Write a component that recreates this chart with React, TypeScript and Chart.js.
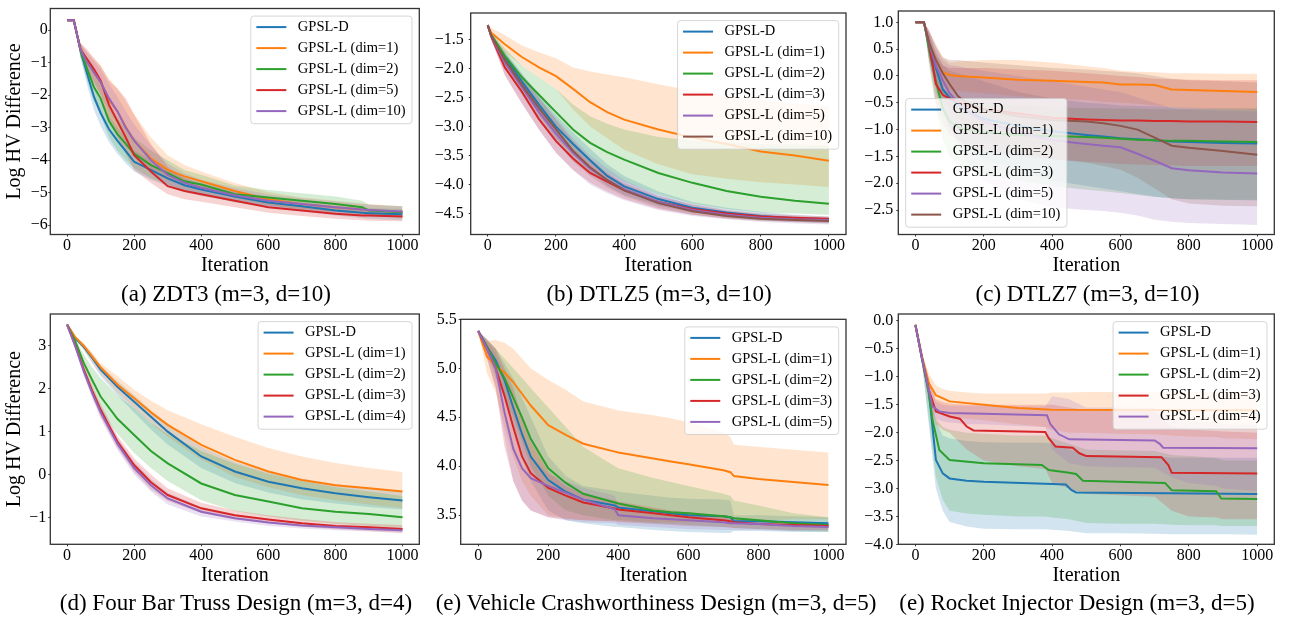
import React, { useEffect, useRef } from "react";
import { Chart, registerables } from "chart.js";

Chart.register(...registerables);

const FONT = '"Liberation Serif", "Times New Roman", Times, serif';
const TAB = ["#1f77b4", "#ff7f0e", "#2ca02c", "#d62728", "#9467bd", "#8c564b"];

const xTicks = [0, 200, 400, 600, 800, 1000];

// ---------- (a) ZDT3 ----------
const aYTicks = [-6, -5, -4, -3, -2, -1, 0];
const aIter = [0, 20, 40, 60, 80, 100, 125, 150, 175, 200, 250, 300, 350, 400, 500, 600, 700, 800, 880, 900, 1000];
const aD = [0.3, 0.3, -0.62, -1.35, -2.05, -2.55, -3.05, -3.4, -3.72, -4.05, -4.3, -4.56, -4.77, -4.9, -5.12, -5.3, -5.42, -5.55, -5.62, -5.63, -5.66];
const aDLo = [0.3, 0.3, -0.85, -1.7, -2.45, -2.95, -3.45, -3.8, -4.1, -4.35, -4.6, -4.8, -4.97, -5.1, -5.28, -5.45, -5.58, -5.7, -5.78, -5.8, -5.85];
const aDHi = [0.3, 0.3, -0.45, -1.05, -1.7, -2.15, -2.65, -3.0, -3.35, -3.7, -4.0, -4.3, -4.55, -4.7, -4.95, -5.12, -5.27, -5.4, -5.47, -5.48, -5.5];
const aL1 = [0.3, 0.3, -0.6, -0.95, -1.3, -1.6, -2.15, -2.5, -2.98, -3.4, -3.95, -4.3, -4.5, -4.65, -4.95, -5.2, -5.35, -5.45, -5.52, -5.53, -5.6];
const aL1Lo = [0.3, 0.3, -0.8, -1.3, -1.75, -2.1, -2.7, -3.1, -3.55, -3.9, -4.35, -4.6, -4.78, -4.9, -5.15, -5.38, -5.52, -5.62, -5.68, -5.7, -5.76];
const aL1Hi = [0.3, 0.3, -0.4, -0.65, -0.9, -1.1, -1.5, -1.8, -2.2, -2.6, -3.3, -3.85, -4.15, -4.35, -4.7, -4.98, -5.15, -5.25, -5.33, -5.35, -5.42];
const aL2 = [0.3, 0.3, -0.62, -1.2, -1.75, -2.1, -2.8, -3.2, -3.5, -3.8, -4.15, -4.4, -4.65, -4.75, -5.05, -5.15, -5.25, -5.35, -5.45, -5.55, -5.6];
const aL2Lo = [0.3, 0.3, -0.85, -1.55, -2.2, -2.6, -3.3, -3.7, -4.0, -4.25, -4.55, -4.75, -4.95, -5.05, -5.3, -5.4, -5.5, -5.58, -5.65, -5.72, -5.77];
const aL2Hi = [0.3, 0.3, -0.42, -0.85, -1.3, -1.65, -2.3, -2.7, -3.0, -3.3, -3.7, -4.0, -4.3, -4.45, -4.78, -4.92, -5.02, -5.12, -5.25, -5.38, -5.42];
const aL5 = [0.3, 0.3, -0.6, -0.9, -1.2, -1.55, -2.3, -2.8, -3.3, -3.85, -4.35, -4.8, -4.95, -5.05, -5.25, -5.45, -5.55, -5.65, -5.7, -5.7, -5.73];
const aL5Lo = [0.3, 0.3, -0.8, -1.2, -1.6, -2.0, -2.8, -3.3, -3.8, -4.3, -4.7, -5.05, -5.2, -5.28, -5.45, -5.62, -5.72, -5.8, -5.85, -5.86, -5.88];
const aL5Hi = [0.3, 0.3, -0.4, -0.6, -0.85, -1.1, -1.55, -1.8, -2.1, -2.6, -3.5, -4.2, -4.55, -4.75, -4.98, -5.22, -5.35, -5.45, -5.52, -5.53, -5.57];
const aL10 = [0.3, 0.3, -0.6, -1.0, -1.3, -1.6, -2.1, -2.5, -3.0, -3.4, -4.0, -4.45, -4.7, -4.85, -5.08, -5.25, -5.35, -5.45, -5.52, -5.53, -5.58];
const aL10Lo = [0.3, 0.3, -0.8, -1.3, -1.65, -2.0, -2.5, -2.9, -3.45, -3.9, -4.4, -4.75, -4.95, -5.05, -5.28, -5.43, -5.53, -5.62, -5.68, -5.7, -5.74];
const aL10Hi = [0.3, 0.3, -0.42, -0.7, -0.95, -1.2, -1.65, -2.05, -2.5, -2.9, -3.55, -4.1, -4.4, -4.6, -4.85, -5.05, -5.17, -5.27, -5.35, -5.36, -5.42];

// ---------- (b) DTLZ5 ----------
const bYTicks = [-4.5, -4.0, -3.5, -3.0, -2.5, -2.0, -1.5];
const bIter = [0, 10, 50, 100, 150, 200, 250, 300, 350, 400, 500, 600, 700, 800, 900, 1000];
const bD = [-1.25, -1.42, -1.8, -2.22, -2.62, -3.0, -3.3, -3.58, -3.85, -4.03, -4.25, -4.4, -4.48, -4.54, -4.58, -4.6];
const bDLo = [-1.25, -1.46, -1.9, -2.36, -2.8, -3.2, -3.5, -3.78, -4.02, -4.18, -4.36, -4.48, -4.56, -4.61, -4.64, -4.66];
const bDHi = [-1.25, -1.38, -1.7, -2.08, -2.45, -2.8, -3.1, -3.38, -3.65, -3.85, -4.12, -4.3, -4.4, -4.47, -4.52, -4.55];
const bL1 = [-1.25, -1.38, -1.58, -1.8, -1.98, -2.13, -2.35, -2.58, -2.75, -2.88, -3.05, -3.19, -3.3, -3.43, -3.5, -3.59];
const bL1Lo = [-1.25, -1.45, -1.72, -1.95, -2.15, -2.35, -2.7, -3.0, -3.2, -3.4, -3.65, -3.82, -3.9, -3.96, -4.0, -4.04];
const bL1Hi = [-1.25, -1.3, -1.42, -1.6, -1.72, -1.82, -1.98, -2.05, -2.1, -2.15, -2.27, -2.38, -2.47, -2.55, -2.6, -2.65];
const bL2 = [-1.25, -1.42, -1.78, -2.15, -2.45, -2.75, -3.05, -3.28, -3.44, -3.57, -3.8, -3.97, -4.11, -4.21, -4.28, -4.33];
const bL2Lo = [-1.25, -1.45, -1.9, -2.35, -2.75, -3.1, -3.4, -3.62, -3.8, -3.95, -4.17, -4.33, -4.42, -4.48, -4.5, -4.52];
const bL2Hi = [-1.25, -1.38, -1.65, -1.95, -2.15, -2.35, -2.62, -2.82, -2.95, -3.05, -3.18, -3.24, -3.27, -3.3, -3.31, -3.32];
const bL3 = [-1.25, -1.45, -1.98, -2.4, -2.87, -3.25, -3.55, -3.8, -3.95, -4.1, -4.3, -4.42, -4.5, -4.55, -4.57, -4.59];
const bL3Lo = [-1.25, -1.5, -2.12, -2.6, -3.05, -3.45, -3.75, -3.97, -4.12, -4.25, -4.42, -4.52, -4.58, -4.62, -4.64, -4.66];
const bL3Hi = [-1.25, -1.4, -1.85, -2.25, -2.7, -3.08, -3.38, -3.62, -3.8, -3.97, -4.2, -4.34, -4.44, -4.5, -4.53, -4.55];
const bL5 = [-1.25, -1.44, -1.9, -2.32, -2.75, -3.12, -3.45, -3.72, -3.92, -4.08, -4.3, -4.44, -4.52, -4.57, -4.6, -4.61];
const bL5Lo = [-1.25, -1.5, -2.1, -2.6, -3.05, -3.45, -3.75, -4.0, -4.15, -4.27, -4.44, -4.54, -4.6, -4.64, -4.67, -4.69];
const bL5Hi = [-1.25, -1.38, -1.75, -2.1, -2.5, -2.85, -3.2, -3.5, -3.72, -3.92, -4.18, -4.35, -4.45, -4.51, -4.55, -4.57];
const bL10 = [-1.25, -1.43, -1.85, -2.28, -2.68, -3.05, -3.42, -3.7, -3.92, -4.1, -4.32, -4.46, -4.54, -4.59, -4.61, -4.63];
const bL10Lo = [-1.25, -1.48, -2.0, -2.45, -2.88, -3.25, -3.6, -3.85, -4.05, -4.2, -4.4, -4.52, -4.59, -4.63, -4.65, -4.67];
const bL10Hi = [-1.25, -1.38, -1.72, -2.12, -2.5, -2.88, -3.25, -3.55, -3.8, -4.0, -4.24, -4.4, -4.49, -4.55, -4.58, -4.6];

// ---------- (c) DTLZ7 ----------
const cYTicks = [-2.5, -2.0, -1.5, -1.0, -0.5, 0.0, 0.5, 1.0];
const cIter = [0, 25, 40, 60, 80, 100, 125, 150, 200, 300, 400, 500, 550, 600, 650, 700, 750, 800, 900, 1000];
const cD = [1, 1, 0.55, 0.15, -0.25, -0.4, -0.53, -0.65, -0.8, -0.93, -1.03, -1.1, -1.13, -1.16, -1.18, -1.2, -1.22, -1.23, -1.25, -1.26];
const cDLo = [1, 1, 0.3, -0.3, -0.7, -0.95, -1.2, -1.35, -1.55, -1.75, -1.95, -2.05, -2.1, -2.15, -2.2, -2.25, -2.28, -2.3, -2.31, -2.32];
const cDHi = [1, 1, 0.8, 0.45, 0.2, 0.1, 0.05, 0.0, -0.1, -0.3, -0.42, -0.5, -0.52, -0.55, -0.56, -0.57, -0.58, -0.59, -0.6, -0.6];
const cL1 = [1, 1, 0.6, 0.3, 0.07, 0.02, 0.0, -0.01, -0.03, -0.07, -0.09, -0.11, -0.12, -0.16, -0.16, -0.17, -0.25, -0.26, -0.28, -0.3];
const cL1Lo = [1, 1, 0.4, 0.0, -0.2, -0.25, -0.28, -0.3, -0.32, -0.38, -0.42, -0.45, -0.48, -0.5, -0.52, -0.55, -0.58, -0.6, -0.62, -0.63];
const cL1Hi = [1, 1, 0.85, 0.6, 0.35, 0.25, 0.27, 0.28, 0.3, 0.3, 0.25, 0.18, 0.15, 0.1, 0.08, 0.07, 0.05, 0.05, 0.04, 0.04];
const cL2 = [1, 1, 0.5, -0.1, -0.6, -0.85, -0.95, -1.0, -1.05, -1.1, -1.12, -1.14, -1.15, -1.17, -1.19, -1.2, -1.21, -1.21, -1.22, -1.23];
const cL2Lo = [1, 1, 0.2, -0.6, -1.2, -1.5, -1.65, -1.75, -1.85, -1.95, -2.05, -2.12, -2.15, -2.18, -2.22, -2.25, -2.28, -2.3, -2.31, -2.31];
const cL2Hi = [1, 1, 0.75, 0.25, -0.2, -0.35, -0.42, -0.45, -0.5, -0.55, -0.58, -0.6, -0.6, -0.61, -0.61, -0.62, -0.62, -0.62, -0.62, -0.62];
const cL3 = [1, 1, 0.6, -0.15, -0.35, -0.42, -0.48, -0.55, -0.62, -0.7, -0.78, -0.81, -0.82, -0.83, -0.83, -0.84, -0.84, -0.85, -0.85, -0.86];
const cL3Lo = [1, 1, 0.3, -0.5, -0.9, -1.1, -1.2, -1.3, -1.4, -1.5, -1.55, -1.6, -1.62, -1.64, -1.65, -1.66, -1.67, -1.68, -1.68, -1.68];
const cL3Hi = [1, 1, 0.8, 0.4, 0.2, 0.15, 0.15, 0.15, 0.15, 0.12, 0.1, 0.05, 0.03, 0.0, -0.02, -0.05, -0.06, -0.07, -0.08, -0.08];
const cL5 = [1, 1, 0.6, 0.2, -0.08, -0.32, -0.5, -0.65, -0.85, -1.05, -1.2, -1.27, -1.3, -1.33, -1.45, -1.58, -1.72, -1.76, -1.8, -1.82];
const cL5Lo = [1, 1, 0.3, -0.2, -0.6, -0.95, -1.3, -1.6, -1.95, -2.3, -2.45, -2.5, -2.52, -2.55, -2.6, -2.68, -2.72, -2.74, -2.76, -2.78];
const cL5Hi = [1, 1, 0.85, 0.55, 0.3, 0.2, 0.18, 0.15, 0.1, 0.0, -0.1, -0.2, -0.25, -0.3, -0.4, -0.5, -0.6, -0.62, -0.65, -0.66];
const cL10 = [1, 1, 0.62, 0.3, 0.05, -0.15, -0.38, -0.5, -0.62, -0.75, -0.82, -0.85, -0.88, -0.93, -1.0, -1.15, -1.3, -1.34, -1.4, -1.47];
const cL10Lo = [1, 1, 0.35, -0.1, -0.4, -0.6, -0.8, -0.95, -1.15, -1.4, -1.55, -1.62, -1.68, -1.75, -1.9, -2.1, -2.3, -2.38, -2.42, -2.43];
const cL10Hi = [1, 1, 0.85, 0.55, 0.35, 0.3, 0.3, 0.28, 0.25, 0.2, 0.15, 0.12, 0.1, 0.08, 0.05, 0.0, -0.05, -0.08, -0.1, -0.12];

// ---------- (d) Four Bar Truss ----------
const dYTicks = [-1, 0, 1, 2, 3];
const dIter = [0, 25, 50, 75, 100, 150, 200, 250, 300, 400, 500, 600, 700, 800, 900, 1000];
const dD = [3.5, 3.18, 2.98, 2.72, 2.45, 2.05, 1.7, 1.35, 1.0, 0.42, 0.07, -0.17, -0.32, -0.44, -0.53, -0.61];
const dDLo = [3.5, 3.14, 2.9, 2.6, 2.3, 1.85, 1.45, 1.05, 0.7, 0.15, -0.2, -0.42, -0.58, -0.68, -0.76, -0.82];
const dDHi = [3.5, 3.22, 3.05, 2.82, 2.55, 2.18, 1.85, 1.5, 1.18, 0.65, 0.3, 0.05, -0.1, -0.22, -0.32, -0.4];
const dL1 = [3.5, 3.2, 3.0, 2.75, 2.5, 2.1, 1.78, 1.45, 1.16, 0.69, 0.34, 0.07, -0.13, -0.25, -0.32, -0.4];
const dL1Lo = [3.5, 3.15, 2.92, 2.62, 2.35, 1.9, 1.55, 1.2, 0.88, 0.35, -0.05, -0.3, -0.48, -0.6, -0.7, -0.78];
const dL1Hi = [3.5, 3.22, 3.05, 2.85, 2.6, 2.3, 1.98, 1.72, 1.5, 1.17, 0.88, 0.62, 0.42, 0.27, 0.15, 0.06];
const dL2 = [3.5, 3.1, 2.6, 2.2, 1.82, 1.3, 0.92, 0.55, 0.26, -0.21, -0.48, -0.63, -0.79, -0.87, -0.92, -1.0];
const dL2Lo = [3.5, 3.05, 2.45, 1.95, 1.5, 0.95, 0.5, 0.15, -0.15, -0.6, -0.85, -0.98, -1.08, -1.15, -1.2, -1.25];
const dL2Hi = [3.5, 3.15, 2.8, 2.5, 2.25, 1.85, 1.55, 1.2, 0.95, 0.55, 0.25, 0.02, -0.15, -0.3, -0.4, -0.5];
const dL3 = [3.5, 3.0, 2.45, 1.95, 1.51, 0.77, 0.22, -0.18, -0.48, -0.79, -0.95, -1.05, -1.14, -1.2, -1.23, -1.27];
const dL3Lo = [3.5, 2.95, 2.35, 1.82, 1.35, 0.62, 0.06, -0.35, -0.62, -0.9, -1.05, -1.14, -1.22, -1.28, -1.32, -1.36];
const dL3Hi = [3.5, 3.05, 2.55, 2.08, 1.65, 0.9, 0.38, 0.0, -0.32, -0.66, -0.84, -0.95, -1.04, -1.11, -1.15, -1.18];
const dL4 = [3.5, 2.98, 2.4, 1.9, 1.45, 0.72, 0.15, -0.25, -0.56, -0.87, -1.02, -1.12, -1.19, -1.23, -1.27, -1.3];
const dL4Lo = [3.5, 2.93, 2.3, 1.78, 1.3, 0.58, 0.0, -0.4, -0.7, -0.98, -1.1, -1.2, -1.26, -1.3, -1.33, -1.37];
const dL4Hi = [3.5, 3.03, 2.5, 2.02, 1.6, 0.86, 0.3, -0.1, -0.42, -0.76, -0.93, -1.04, -1.12, -1.17, -1.21, -1.25];

// ---------- (e) Vehicle Crashworthiness ----------
const eYTicks = [3.5, 4.0, 4.5, 5.0, 5.5];
const eIter = [0, 25, 50, 75, 100, 125, 150, 200, 250, 300, 390, 400, 500, 550, 600, 700, 720, 730, 800, 900, 1000];
const eD = [5.38, 5.22, 5.08, 4.88, 4.6, 4.33, 4.1, 3.86, 3.74, 3.66, 3.6, 3.58, 3.54, 3.52, 3.5, 3.49, 3.48, 3.44, 3.44, 3.43, 3.42];
const eDLo = [5.38, 5.15, 4.95, 4.7, 4.45, 4.1, 3.85, 3.55, 3.45, 3.42, 3.38, 3.38, 3.35, 3.34, 3.33, 3.32, 3.32, 3.34, 3.34, 3.33, 3.33];
const eDHi = [5.38, 5.3, 5.2, 5.05, 4.9, 4.7, 4.5, 4.1, 3.9, 3.8, 3.75, 3.74, 3.7, 3.68, 3.67, 3.66, 3.65, 3.5, 3.5, 3.49, 3.48];
const eL1 = [5.38, 5.12, 5.02, 4.96, 4.86, 4.74, 4.62, 4.42, 4.32, 4.23, 4.15, 4.14, 4.08, 4.05, 4.02, 3.96, 3.94, 3.9, 3.87, 3.84, 3.81];
const eL1Lo = [5.38, 4.95, 4.75, 4.4, 4.1, 3.85, 3.7, 3.5, 3.47, 3.45, 3.44, 3.44, 3.43, 3.43, 3.43, 3.44, 3.44, 3.45, 3.45, 3.46, 3.46];
const eL1Hi = [5.38, 5.28, 5.29, 5.26, 5.2, 5.1, 5.0, 4.88, 4.78, 4.66, 4.58, 4.57, 4.52, 4.49, 4.45, 4.35, 4.3, 4.22, 4.2, 4.17, 4.14];
const eL2 = [5.38, 5.22, 5.05, 4.9, 4.7, 4.5, 4.28, 3.98, 3.83, 3.72, 3.63, 3.62, 3.55, 3.53, 3.52, 3.49, 3.48, 3.47, 3.45, 3.42, 3.4];
const eL2Lo = [5.38, 5.15, 4.9, 4.7, 4.5, 4.25, 4.0, 3.7, 3.55, 3.5, 3.45, 3.45, 3.42, 3.41, 3.4, 3.38, 3.38, 3.37, 3.36, 3.34, 3.33];
const eL2Hi = [5.38, 5.28, 5.2, 5.1, 5.0, 4.9, 4.8, 4.6, 4.4, 4.2, 4.0, 3.98, 3.88, 3.84, 3.8, 3.72, 3.7, 3.65, 3.6, 3.52, 3.48];
const eL3 = [5.38, 5.2, 5.0, 4.72, 4.4, 4.1, 3.93, 3.78, 3.7, 3.63, 3.57, 3.56, 3.52, 3.5, 3.48, 3.45, 3.44, 3.43, 3.41, 3.4, 3.39];
const eL3Lo = [5.38, 5.1, 4.8, 4.2, 3.85, 3.65, 3.55, 3.48, 3.46, 3.45, 3.44, 3.43, 3.41, 3.4, 3.39, 3.38, 3.37, 3.37, 3.36, 3.35, 3.35];
const eL3Hi = [5.38, 5.3, 5.2, 5.0, 4.8, 4.5, 4.25, 3.95, 3.8, 3.72, 3.65, 3.64, 3.58, 3.55, 3.53, 3.5, 3.49, 3.47, 3.45, 3.43, 3.42];
const eL5 = [5.38, 5.2, 5.0, 4.55, 4.18, 3.98, 3.88, 3.8, 3.73, 3.66, 3.56, 3.5, 3.47, 3.46, 3.45, 3.43, 3.42, 3.42, 3.41, 3.39, 3.38];
const eL5Lo = [5.38, 5.1, 4.8, 4.3, 3.85, 3.65, 3.55, 3.48, 3.45, 3.43, 3.42, 3.4, 3.38, 3.37, 3.36, 3.35, 3.35, 3.35, 3.35, 3.34, 3.34];
const eL5Hi = [5.38, 5.28, 5.15, 4.95, 4.6, 4.3, 4.1, 3.92, 3.85, 3.78, 3.7, 3.6, 3.55, 3.53, 3.52, 3.5, 3.49, 3.48, 3.46, 3.44, 3.42];

// ---------- (f) Rocket Injector ----------
const fYTicks = [-4.0, -3.5, -3.0, -2.5, -2.0, -1.5, -1.0, -0.5, 0.0];
const fBandIter = [0, 20, 40, 60, 80, 100, 150, 200, 300, 380, 400, 450, 500, 600, 700, 750, 800, 880, 900, 1000];
const fDIter = [0, 20, 40, 60, 80, 100, 150, 200, 400, 440, 455, 470, 1000];
const fD = [-0.07, -0.7, -1.3, -2.49, -2.73, -2.82, -2.86, -2.88, -2.92, -2.93, -3.02, -3.07, -3.1];
const fDLo = [-0.07, -0.8, -1.9, -3.0, -3.4, -3.6, -3.68, -3.72, -3.73, -3.73, -3.74, -3.76, -3.8, -3.8, -3.81, -3.82, -3.82, -3.82, -3.82, -3.83];
const fDHi = [-0.07, -0.6, -1.3, -1.8, -2.05, -2.1, -2.15, -2.17, -2.18, -2.18, -2.2, -2.3, -2.4, -2.42, -2.42, -2.45, -2.45, -2.45, -2.45, -2.45];
const fL1Iter = [0, 20, 40, 60, 100, 200, 300, 400, 1000];
const fL1 = [-0.07, -0.65, -1.12, -1.33, -1.44, -1.5, -1.56, -1.59, -1.6];
const fL1Lo = [-0.07, -0.7, -1.3, -1.55, -1.65, -1.7, -1.75, -1.78, -1.85, -1.9, -1.95, -2.0, -2.0, -2.02, -2.03, -2.05, -2.07, -2.08, -2.1, -2.12];
const fL1Hi = [-0.07, -0.6, -0.95, -1.15, -1.22, -1.25, -1.28, -1.3, -1.3, -1.3, -1.28, -1.28, -1.27, -1.27, -1.27, -1.27, -1.27, -1.27, -1.27, -1.27];
const fL2Iter = [0, 20, 40, 50, 70, 100, 200, 370, 390, 450, 470, 480, 490, 730, 750, 880, 895, 1000];
const fL2 = [-0.07, -0.7, -1.3, -1.77, -2.31, -2.49, -2.55, -2.58, -2.67, -2.72, -2.74, -2.8, -2.86, -2.9, -3.03, -3.05, -3.18, -3.19];
const fL2Lo = [-0.07, -0.8, -1.8, -2.8, -3.2, -3.4, -3.45, -3.47, -3.5, -3.5, -3.52, -3.55, -3.62, -3.63, -3.63, -3.65, -3.66, -3.66, -3.67, -3.67];
const fL2Hi = [-0.07, -0.6, -1.15, -1.75, -1.9, -1.95, -2.0, -2.02, -2.05, -2.05, -2.1, -2.2, -2.3, -2.32, -2.33, -2.4, -2.42, -2.45, -2.5, -2.5];
const fL3Iter = [0, 20, 40, 60, 100, 130, 150, 170, 380, 390, 410, 460, 480, 500, 720, 740, 750, 1000];
const fL3 = [-0.07, -0.68, -1.25, -1.62, -1.71, -1.75, -1.89, -1.96, -1.99, -2.1, -2.25, -2.27, -2.37, -2.42, -2.44, -2.58, -2.72, -2.73];
const fL3Lo = [-0.07, -0.75, -1.5, -1.85, -1.95, -2.0, -2.3, -2.5, -2.6, -2.65, -2.9, -3.0, -3.1, -3.12, -3.15, -3.4, -3.5, -3.52, -3.55, -3.55];
const fL3Hi = [-0.07, -0.6, -1.1, -1.4, -1.45, -1.48, -1.5, -1.5, -1.5, -1.5, -1.5, -1.55, -1.6, -1.6, -1.62, -1.9, -1.95, -1.97, -1.98, -2.0];
const fL4Iter = [0, 20, 40, 50, 70, 100, 200, 385, 395, 420, 450, 700, 715, 725, 1000];
const fL4 = [-0.07, -0.68, -1.25, -1.53, -1.62, -1.65, -1.66, -1.69, -1.85, -2.03, -2.12, -2.14, -2.2, -2.27, -2.28];
const fL4Lo = [-0.07, -0.75, -1.45, -1.75, -1.8, -1.82, -1.85, -1.85, -1.88, -1.9, -2.3, -2.55, -2.6, -2.62, -2.63, -2.8, -2.9, -2.95, -3.0, -3.05];
const fL4Hi = [-0.07, -0.6, -1.1, -1.45, -1.5, -1.52, -1.52, -1.52, -1.53, -1.53, -1.35, -1.4, -1.55, -1.55, -1.56, -1.75, -1.8, -1.82, -1.85, -1.85];

// ---------- helpers ----------
type Series = { label: string; x: number[]; m: number[]; bx: number[]; lo: number[]; hi: number[] };

const pts = (xs: number[], ys: number[]) => xs.map((x, i) => ({ x, y: ys[i] }));
const rgba = (hex: string, a: number) => {
  const n = parseInt(hex.slice(1), 16);
  return `rgba(${(n >> 16) & 255},${(n >> 8) & 255},${n & 255},${a})`;
};
const fmt = (v: number, dec: number) => v.toFixed(dec).replace("-", "\u2212");

const S = (label: string, x: number[], m: number[], lo: number[], hi: number[], bx?: number[]): Series => ({
  label, x, m, lo, hi, bx: bx || x,
});

const panels = [
  {
    box: { x: 0, y: 0, w: 430, h: 280 }, area: { l: 50.3, t: 4, r: 419.3, b: 234.5 },
    yMin: -6.286, yMax: 0.663, yTicks: aYTicks, yDec: 0, yPad: 0.5, yTitle: true, legend: "ur",
    caption: "(a) ZDT3 (m=3, d=10)", capX: 226, capY: 293.5,
    series: [
      S("GPSL-D", aIter, aD, aDLo, aDHi),
      S("GPSL-L (dim=1)", aIter, aL1, aL1Lo, aL1Hi),
      S("GPSL-L (dim=2)", aIter, aL2, aL2Lo, aL2Hi),
      S("GPSL-L (dim=5)", aIter, aL5, aL5Lo, aL5Hi),
      S("GPSL-L (dim=10)", aIter, aL10, aL10Lo, aL10Hi),
    ],
  },
  {
    box: { x: 430, y: 0, w: 430, h: 280 }, area: { l: 470.7, t: 4, r: 846, b: 234.5 },
    yMin: -4.861, yMax: -1.041, yTicks: bYTicks, yDec: 1, yPad: 5, yTitle: false, legend: "ur",
    caption: "(b) DTLZ5 (m=3, d=10)", capX: 659, capY: 293.5,
    series: [
      S("GPSL-D", bIter, bD, bDLo, bDHi),
      S("GPSL-L (dim=1)", bIter, bL1, bL1Lo, bL1Hi),
      S("GPSL-L (dim=2)", bIter, bL2, bL2Lo, bL2Hi),
      S("GPSL-L (dim=3)", bIter, bL3, bL3Lo, bL3Hi),
      S("GPSL-L (dim=5)", bIter, bL5, bL5Lo, bL5Hi),
      S("GPSL-L (dim=10)", bIter, bL10, bL10Lo, bL10Hi),
    ],
  },
  {
    box: { x: 860, y: 0, w: 430, h: 280 }, area: { l: 898.3, t: 4, r: 1274.3, b: 234.5 },
    yMin: -2.956, yMax: 1.212, yTicks: cYTicks, yDec: 1, yPad: 3, yTitle: false, legend: "ll",
    caption: "(c) DTLZ7 (m=3, d=10)", capX: 1087.5, capY: 293.5,
    series: [
      S("GPSL-D", cIter, cD, cDLo, cDHi),
      S("GPSL-L (dim=1)", cIter, cL1, cL1Lo, cL1Hi),
      S("GPSL-L (dim=2)", cIter, cL2, cL2Lo, cL2Hi),
      S("GPSL-L (dim=3)", cIter, cL3, cL3Lo, cL3Hi),
      S("GPSL-L (dim=5)", cIter, cL5, cL5Lo, cL5Hi),
      S("GPSL-L (dim=10)", cIter, cL10, cL10Lo, cL10Hi),
    ],
  },
  {
    box: { x: 0, y: 300, w: 430, h: 290 }, area: { l: 50.3, t: 314, r: 419.3, b: 544.3 },
    yMin: -1.63, yMax: 3.747, yTicks: dYTicks, yDec: 0, yPad: 2, yTitle: true, legend: "ur",
    caption: "(d) Four Bar Truss Design (m=3, d=4)", capX: 236, capY: 603.3,
    series: [
      S("GPSL-D", dIter, dD, dDLo, dDHi),
      S("GPSL-L (dim=1)", dIter, dL1, dL1Lo, dL1Hi),
      S("GPSL-L (dim=2)", dIter, dL2, dL2Lo, dL2Hi),
      S("GPSL-L (dim=3)", dIter, dL3, dL3Lo, dL3Hi),
      S("GPSL-L (dim=4)", dIter, dL4, dL4Lo, dL4Hi),
    ],
  },
  {
    box: { x: 430, y: 300, w: 430, h: 290 }, area: { l: 460.7, t: 319.3, r: 846, b: 544.3 },
    yMin: 3.204, yMax: 5.5, yTicks: eYTicks, yDec: 1, yPad: 2, yTitle: false, legend: "ur",
    caption: "(e) Vehicle Crashworthiness Design (m=3, d=5)", capX: 656, capY: 603.3,
    series: [
      S("GPSL-D", eIter, eD, eDLo, eDHi),
      S("GPSL-L (dim=1)", eIter, eL1, eL1Lo, eL1Hi),
      S("GPSL-L (dim=2)", eIter, eL2, eL2Lo, eL2Hi),
      S("GPSL-L (dim=3)", eIter, eL3, eL3Lo, eL3Hi),
      S("GPSL-L (dim=5)", eIter, eL5, eL5Lo, eL5Hi),
    ],
  },
  {
    box: { x: 860, y: 300, w: 430, h: 290 }, area: { l: 898.3, t: 314, r: 1274.3, b: 544.3 },
    yMin: -4.0, yMax: 0.125, yTicks: fYTicks, yDec: 1, yPad: 3, yTitle: false, legend: "ur",
    caption: "(e) Rocket Injector Design (m=3, d=5)", capX: 1077, capY: 603.3,
    series: [
      S("GPSL-D", fDIter, fD, fDLo, fDHi, fBandIter),
      S("GPSL-L (dim=1)", fL1Iter, fL1, fL1Lo, fL1Hi, fBandIter),
      S("GPSL-L (dim=2)", fL2Iter, fL2, fL2Lo, fL2Hi, fBandIter),
      S("GPSL-L (dim=3)", fL3Iter, fL3, fL3Lo, fL3Hi, fBandIter),
      S("GPSL-L (dim=4)", fL4Iter, fL4, fL4Lo, fL4Hi, fBandIter),
    ],
  },
];

const framePlugin = {
  id: "mplFrame",
  afterDatasetsDraw(chart: any) {
    const { ctx, chartArea: a } = chart;
    ctx.save();
    ctx.strokeStyle = "#333333";
    ctx.lineWidth = 1.3;
    ctx.strokeRect(a.left, a.top, a.right - a.left, a.bottom - a.top);
    ctx.restore();
  },
};

function makeLegend(items: { label: string; color: string }[], loc: string) {
  return {
    id: "mplLegend",
    afterDraw(chart: any) {
      const { ctx, chartArea: ca } = chart;
      const fs = 14.5;
      ctx.save();
      ctx.font = `${fs}px ${FONT}`;
      const tw = Math.max(...items.map((it) => ctx.measureText(it.label).width));
      const padL = 5.5, hl = 30, gap = 11.5, padR = 6.5, rowH = 21, padT = 11, padB = 12.6;
      const w = padL + hl + gap + tw + padR;
      const h = padT + (items.length - 1) * rowH + padB;
      const x = loc === "ur" ? ca.right - 7.3 - w : ca.left + 7.4;
      const y = loc === "ur" ? ca.top + 7.6 : ca.bottom - 7.3 - h;
      ctx.beginPath();
      if (ctx.roundRect) ctx.roundRect(x, y, w, h, 3);
      else ctx.rect(x, y, w, h);
      ctx.fillStyle = "rgba(255,255,255,0.8)";
      ctx.fill();
      ctx.strokeStyle = "rgba(204,204,204,0.8)";
      ctx.lineWidth = 1;
      ctx.stroke();
      items.forEach((it, i) => {
        const cy = y + padT + i * rowH;
        ctx.beginPath();
        ctx.moveTo(x + padL, cy);
        ctx.lineTo(x + padL + hl, cy);
        ctx.strokeStyle = it.color;
        ctx.lineWidth = 2;
        ctx.stroke();
        ctx.fillStyle = "#000";
        ctx.textBaseline = "middle";
        ctx.textAlign = "left";
        ctx.fillText(it.label, x + padL + hl + gap, cy);
      });
      ctx.restore();
    },
  };
}

function buildConfig(p: any) {
  const datasets: any[] = [];
  p.series.forEach((s: Series, i: number) => {
    const c = TAB[i];
    datasets.push({
      data: pts(s.bx, s.lo), borderColor: "rgba(0,0,0,0)", borderWidth: 0, pointRadius: 0,
      fill: false, order: 200 - i,
    });
    datasets.push({
      data: pts(s.bx, s.hi), borderColor: "rgba(0,0,0,0)", borderWidth: 0, pointRadius: 0,
      fill: "-1", backgroundColor: rgba(c, 0.2), order: 200 - i,
    });
  });
  p.series.forEach((s: Series, i: number) => {
    datasets.push({
      label: s.label, data: pts(s.x, s.m), borderColor: TAB[i], borderWidth: 2, pointRadius: 0,
      fill: false, order: 100 - i, tension: 0,
    });
  });
  const items = p.series.map((s: Series, i: number) => ({ label: s.label, color: TAB[i] }));
  const yW = p.area.l - p.box.x;
  const xH = p.box.y + p.box.h - p.area.b;
  const tickFont = { family: FONT, size: 16, lineHeight: 1.0 };
  const titleFont = { family: FONT, size: 20, lineHeight: 1.2 };
  return {
    type: "line",
    data: { datasets },
    options: {
      responsive: false,
      animation: false,
      devicePixelRatio: 1,
      events: [],
      layout: {
        padding: { left: 0, bottom: 0, top: p.area.t - p.box.y, right: p.box.x + p.box.w - p.area.r },
      },
      plugins: {
        legend: { display: false },
        tooltip: { enabled: false },
        colors: { enabled: false },
        filler: { drawTime: "beforeDatasetsDraw", propagate: false },
      },
      scales: {
        x: {
          type: "linear", min: -50, max: 1050,
          afterBuildTicks: (s: any) => { s.ticks = xTicks.map((v) => ({ value: v })); },
          afterFit: (s: any) => { s.height = xH; },
          grid: { drawOnChartArea: false, drawTicks: true, tickLength: 2, color: "#333333", tickWidth: 1 },
          border: { display: false },
          ticks: { font: tickFont, color: "#000", padding: 1, maxRotation: 0, autoSkip: false, callback: (v: number) => fmt(v, 0) },
          title: { display: true, text: "Iteration", font: titleFont, color: "#000", padding: { top: 0, bottom: 2 } },
        },
        y: {
          type: "linear", min: p.yMin, max: p.yMax,
          afterBuildTicks: (s: any) => { s.ticks = p.yTicks.map((v: number) => ({ value: v })); },
          afterFit: (s: any) => { s.width = yW; },
          grid: { drawOnChartArea: false, drawTicks: true, tickLength: 2, color: "#333333", tickWidth: 1 },
          border: { display: false },
          ticks: { font: tickFont, color: "#000", padding: p.yPad, autoSkip: false, callback: (v: number) => fmt(v, p.yDec) },
          title: { display: p.yTitle, text: "Log HV Difference", font: titleFont, color: "#000", padding: { top: 3, bottom: 0 } },
        },
      },
    },
    plugins: [framePlugin, makeLegend(items, p.legend)],
  };
}

function Panel({ p }: { p: any }) {
  const ref = useRef<HTMLCanvasElement | null>(null);
  useEffect(() => {
    if (!ref.current) return;
    const chart = new Chart(ref.current, buildConfig(p) as any);
    return () => chart.destroy();
  }, [p]);
  return (
    <canvas
      ref={ref}
      width={p.box.w}
      height={p.box.h}
      style={{ position: "absolute", left: p.box.x, top: p.box.y, width: p.box.w, height: p.box.h }}
    />
  );
}

export default function App() {
  return (
    <div style={{ position: "fixed", left: 0, top: 0, width: 1290, height: 622, background: "#fff", overflow: "hidden" }}>
      {panels.map((p, i) => (
        <Panel key={i} p={p} />
      ))}
      {panels.map((p, i) => (
        <div
          key={"c" + i}
          style={{
            position: "absolute", left: p.capX - 300, width: 600, top: p.capY - 14, height: 28,
            lineHeight: "28px", textAlign: "center", fontFamily: FONT, fontSize: 23, color: "#000",
            whiteSpace: "nowrap",
          }}
        >
          {p.caption}
        </div>
      ))}
    </div>
  );
}
